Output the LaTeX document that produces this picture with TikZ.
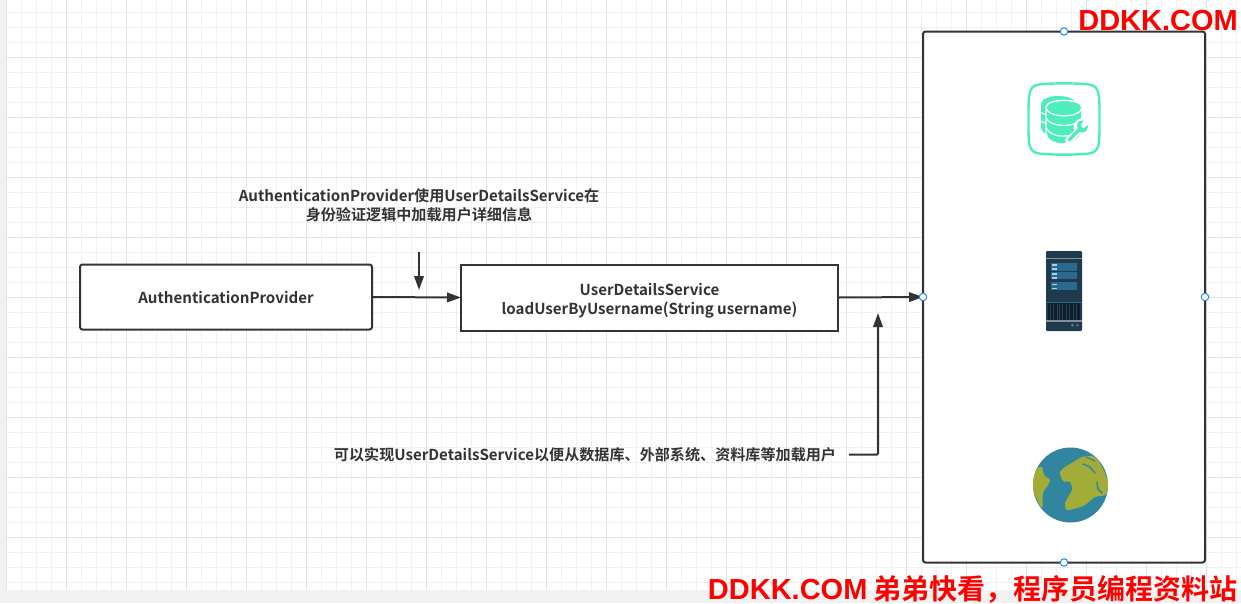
\documentclass[tikz,border=0pt]{standalone}
\usepackage{fontspec}
\setmainfont{Noto Sans CJK SC}[BoldFont={Noto Sans CJK SC Bold}]
\newfontfamily\wmlatin{Liberation Sans}[BoldFont={Liberation Sans Bold}]
\usetikzlibrary{arrows.meta,calc}
\definecolor{ink}{HTML}{333333}
\definecolor{gmin}{HTML}{F1F1F1}
\definecolor{gmaj}{HTML}{E4E4E4}
\definecolor{mint}{HTML}{4DEDBD}
\definecolor{srvd}{HTML}{1E3A4C}
\definecolor{srvm}{HTML}{2A6A90}
\definecolor{srvg}{HTML}{7F929C}
\definecolor{srvl}{HTML}{B5CEDC}
\definecolor{srvb}{HTML}{101E28}
\definecolor{ocean}{HTML}{32859F}
\definecolor{land}{HTML}{A2AD39}
\definecolor{handleblue}{HTML}{1E88F0}
\definecolor{ledg}{HTML}{2E9E7A}
\definecolor{ledr}{HTML}{B0405A}
\tikzset{
 x=1pt,y=-1pt,
 box/.style={draw=ink,line width=2pt,fill=white,rounded corners=2.5pt,inner sep=0pt,outer sep=0pt,align=center,font=\fontsize{15.1}{19}\selectfont\bfseries,text=ink},
 lab/.style={inner sep=0pt,align=center,text=ink,font=\fontsize{15.1}{18.5}\selectfont\bfseries},
 conn/.style={draw=ink,line width=2pt,-{Triangle[length=14pt,width=9.5pt]}},
 handle/.style={circle,draw=handleblue,fill=white,line width=1pt,minimum size=7.5pt,inner sep=0pt,outer sep=0pt},
 wm/.style={inner sep=0pt,text=red,font=\fontsize{28}{32}\selectfont\bfseries},
}
\begin{document}
\begin{tikzpicture}
\useasboundingbox (0,0) rectangle (1241,603);
\fill[gmin] (0,0) rectangle (1241,603);
\fill[white] (6.5,0) rectangle (1241,590);
% grid
\foreach \i in {0,...,82} {
  \pgfmathsetmacro{\xx}{6.5+15*\i}
  \draw[gmin,line width=1pt] (\xx,0) -- (\xx,590);
}
\foreach \i in {0,...,38} {
  \pgfmathsetmacro{\yy}{12.5+15*\i}
  \draw[gmin,line width=1pt] (6.5,\yy) -- (1241,\yy);
}
\foreach \i in {0,...,20} {
  \pgfmathsetmacro{\xx}{6.5+60*\i}
  \draw[gmaj,line width=1pt] (\xx,0) -- (\xx,590);
}
\foreach \i in {0,...,8} {
  \pgfmathsetmacro{\yy}{57.5+60*\i}
  \draw[gmaj,line width=1pt] (6.5,\yy) -- (1241,\yy);
}
% boxes
\node[box,minimum width=292pt,minimum height=65pt] (ap) at (226,297) {AuthenticationProvider};
\node[box,minimum width=377pt,minimum height=66pt,rounded corners=0pt] (uds) at (649.5,297.5) {};
\node[lab,text depth=0pt,font=\fontsize{15.1}{19}\selectfont\bfseries] (udst) at (649.5,299) {UserDetailsService\\loadUserByUsername(String username)};
\node[box,minimum width=282pt,minimum height=531pt] (rack) at (1064,297) {};
% labels
\node[lab] (t1) at (419,205.5) {AuthenticationProvider使用UserDetailsService在\\身份验证逻辑中加载用户详细信息};
\node[lab] (t2) at (585,454.5) {可以实现UserDetailsService以便从数据库、外部系统、资料库等加载用户};
% connectors
\coordinate (j1) at (419,252);
\coordinate (j1e) at (419,290);
\coordinate (j2e) at (878,313);
\coordinate (j2s) at (849,454.5);
\draw[conn] (ap.east) -- (uds.west);
\draw[conn] (uds.east) -- (rack.west);
\draw[conn] (j1) -- (j1e);
\draw[conn,rounded corners=1pt] (j2s) -- (878,454.5) -- (j2e);
% handles
\node[handle] (h1) at (rack.north) {};
\node[handle] (h2) at (rack.south) {};
\node[handle] (h3) at (rack.west) {};
\node[handle] (h4) at (rack.east) {};
% db icon frame
\draw[mint,line width=2.4pt] (1039,84.5) .. controls (1028,86) and (1028.5,95) .. (1028.5,119.5) .. controls (1028.5,144) and (1028,152) .. (1039,153.5) .. controls (1050,155) and (1078,155) .. (1089,153.5) .. controls (1100,152) and (1099.5,144) .. (1099.5,119.5) .. controls (1099.5,95) and (1100,86) .. (1089,84.5) .. controls (1078,83) and (1050,83) .. (1039,84.5) -- cycle;
% back cylinder
\fill[mint] (1041,104) .. controls (1041,99) and (1050,96) .. (1058,96) .. controls (1066,96) and (1074,98) .. (1075,102) -- (1050,136) .. controls (1045,134) and (1041,131) .. (1041,127) -- cycle;
\draw[white,line width=1pt] (1040,112.5) -- (1046,114.5);
\draw[white,line width=1pt] (1040,121) -- (1046,123.5);
% front cylinder
\fill[mint,draw=white,line width=1.4pt] (1046,107.5) .. controls (1046,98) and (1082,98) .. (1082,107.5) -- (1082,130) .. controls (1082,138) and (1072,144) .. (1064,144) .. controls (1054,144) and (1046,140) .. (1046,133) -- cycle;
\draw[white,line width=1.2pt] (1046,108) .. controls (1049,118.5) and (1079,118.5) .. (1082,108);
\draw[white,line width=1.2pt] (1046,117.5) .. controls (1049,128) and (1079,128) .. (1082,117.5);
\draw[white,line width=1.2pt] (1046,127) .. controls (1049,137) and (1066,138) .. (1074,134);
% wrench
\draw[white,line width=7pt,line cap=round] (1068.5,140.5) -- (1084,126);
\fill[white] (1082,127) circle [radius=8.5pt];
\draw[mint,line width=3.4pt,line cap=round] (1068.5,140.5) -- (1080,129);
\fill[mint] (1077,126) .. controls (1077,121) and (1080,120.5) .. (1083.5,120.5) -- (1080.5,125) -- (1083,128.5) -- (1088,125) .. controls (1088.5,130) and (1085,134) .. (1079,132) -- cycle;
\fill[white] (1068,140.5) circle [radius=1pt];
% server icon
\fill[srvd,rounded corners=1.2pt] (1046,251) rectangle (1082,331);
\fill[srvg] (1046,257.5) rectangle (1082,258.8);
\fill[srvg] (1046,320) rectangle (1082,322);
\fill[srvm] (1051,262.7) rectangle (1077,270.7);
\fill[srvm] (1051,272.3) rectangle (1077,279.3);
\fill[srvm] (1051,282) rectangle (1077,290);
\foreach \yy in {264.2,268.2,273.2,277.2,283.6,287.6} \fill[srvl] (1052,\yy) rectangle (1057,\yy+1.3);
\fill[srvb] (1048,303) rectangle (1079.5,320);
\foreach \xx in {1050,1053,1057,1059,1062,1066,1069,1073,1076} \fill[srvd!70!srvm] (\xx,303.5) rectangle (\xx+1,320);
\fill[srvm] (1046,302) rectangle (1082,302.8);
\fill[ledg] (1072.3,325.3) circle [radius=1.5pt];
\fill[ledr] (1077.3,325.3) circle [radius=1.5pt];
% globe icon
\fill[ocean] (1070.5,485) circle [radius=37.5pt];
\begin{scope}
\clip (1070.5,485) circle [radius=37.5pt];
\fill[land,smooth cycle,tension=.45] plot coordinates {(1060,472) (1065,467) (1075,461) (1082,457) (1092,456) (1098,460) (1105,473) (1109,487) (1105,495) (1095,497) (1085,505) (1077,508) (1067,510) (1065,503) (1072,490) (1070,482) (1063,481)};
\fill[land,smooth cycle,tension=.45] plot coordinates {(1032,475) (1037,468) (1042,467) (1044,475) (1050,480) (1048,485) (1043,493) (1042,508) (1035,495) (1032,482)};
\draw[ocean,line width=1.5pt,line cap=round] (1083,464) -- (1090,467) -- (1095,473);
\draw[ocean,line width=1.2pt,line cap=round] (1086,457) -- (1095,461);
\draw[ocean,line width=1.5pt,line cap=round] (1097,482) -- (1098,489) -- (1102,493);
\end{scope}
% watermarks
\node[wm,anchor=east,font=\wmlatin\fontsize{29}{32}\selectfont\bfseries] (w1) at (1238,21) {DDKK.COM};
\node[wm,anchor=east] (w2) at (1238,589) {{\wmlatin\fontsize{29}{32}\selectfont\bfseries DDKK.COM} 弟弟快看，程序员编程资料站};
\end{tikzpicture}
\end{document}
